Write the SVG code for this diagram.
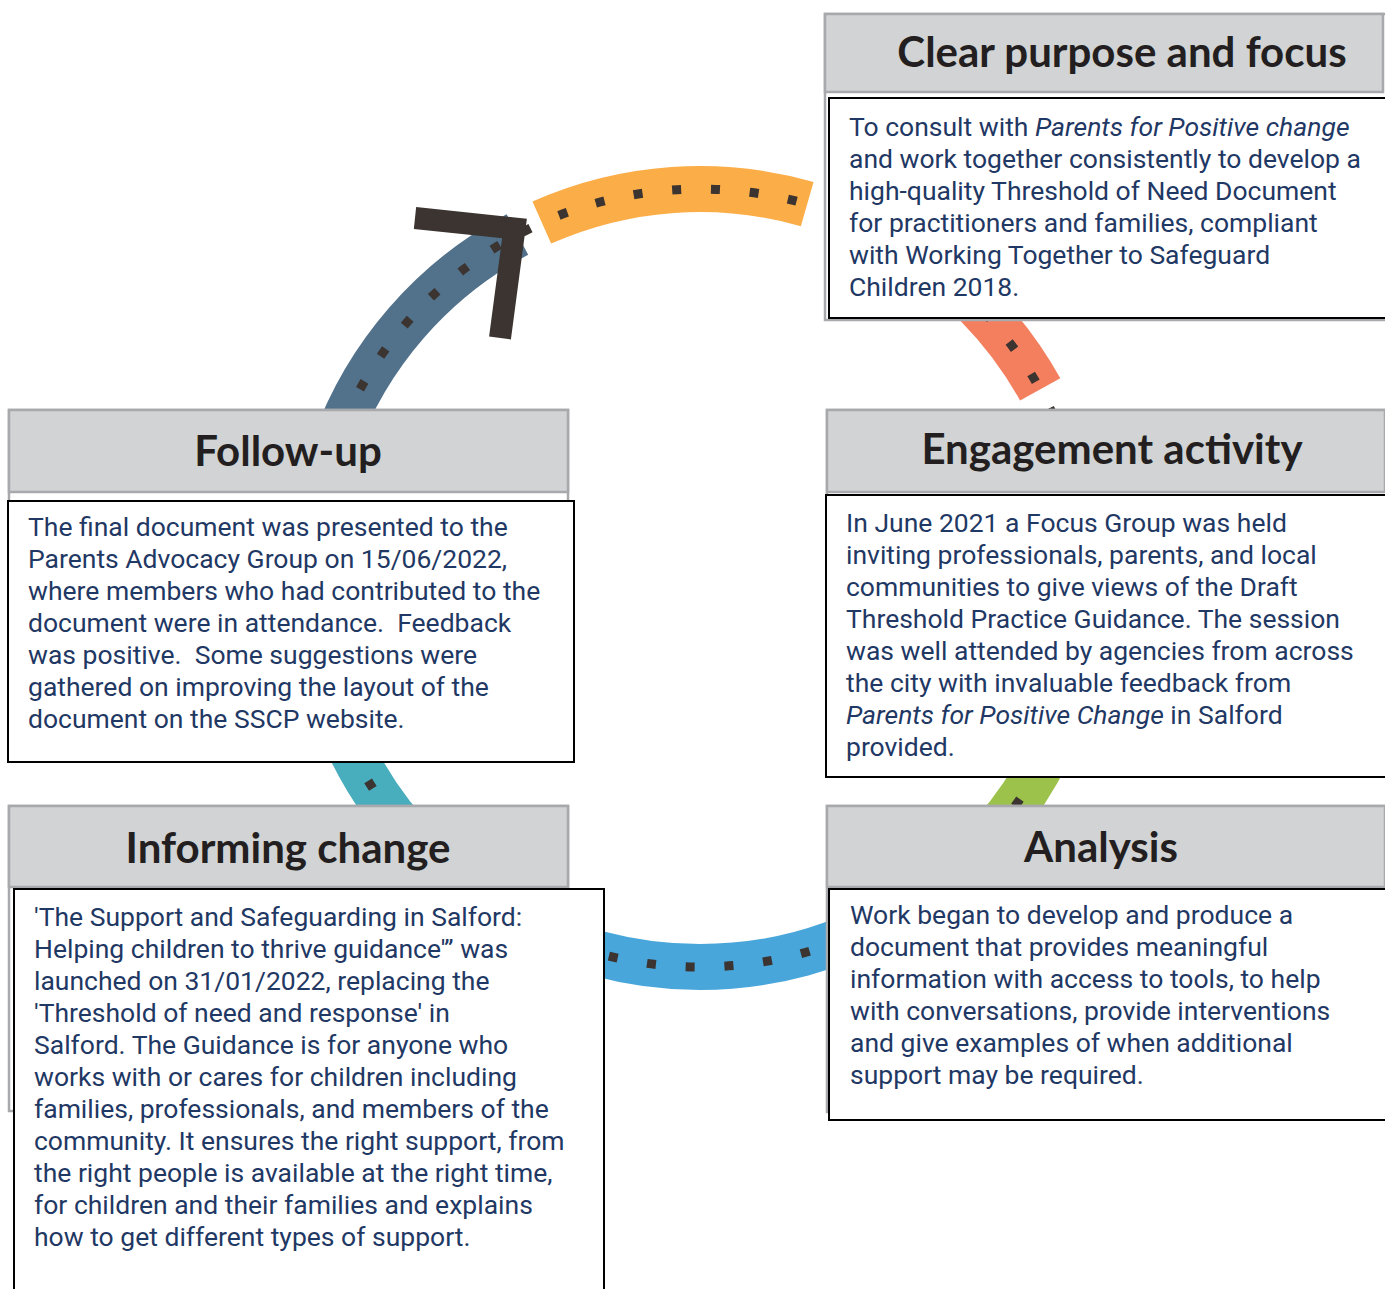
<svg xmlns="http://www.w3.org/2000/svg" width="1385" height="1289" viewBox="0 0 1385 1289">
<style>
.band{fill:none;stroke-width:46;stroke-linecap:butt}
.dots{fill:none;stroke:#3b3430;stroke-width:9;stroke-dasharray:9 29.8;stroke-linecap:butt}
.outer{fill:#fff;stroke:#a7a9ac;stroke-width:2.5}
.head{fill:#d1d3d4;stroke:#a7a9ac;stroke-width:2.5}
.tbox{fill:#fff;stroke:#000;stroke-width:2}
.title{font-family:Lato,"Open Sans",sans-serif;font-weight:bold;font-size:42px;fill:#231f20;text-anchor:middle}
.body{font-family:Roboto,"Liberation Sans",sans-serif;font-size:26.5px;fill:#1f3864;white-space:pre}
.it{font-style:italic}
</style>
<g id="connectors">
  <path class="band" stroke="#fbad47" d="M 541.8 222.6 A 389 389 0 0 1 807.2 204.1"/>
  <path class="dots" stroke-dashoffset="20.2" d="M 541.8 222.6 A 389 389 0 0 1 807.2 204.1"/>
  <path class="dots" d="M 522.5 232.3 A 389 389 0 0 1 541.8 222.6" stroke-dasharray="9 40"/>
  <path class="band" stroke="#f47f5f" d="M 894.5 241.1 A 389 389 0 0 1 1040.2 389.4"/>
  <path class="dots" stroke-dashoffset="1.5" d="M 894.5 241.1 A 389 389 0 0 1 1055.6 420.5"/>
  <path class="band" stroke="#9dc24b" d="M 1065.5 711 A 389 389 0 0 1 975 853"/>
  <path class="dots" stroke-dashoffset="17" d="M 1065.5 711 A 389 389 0 0 1 975 853"/>
  <path class="band" stroke="#48a6da" d="M 894.5 914.9 A 389 389 0 0 1 505.5 914.9"/>
  <path class="dots" stroke-dashoffset="23.8" d="M 894.5 914.9 A 389 389 0 0 1 505.5 914.9"/>
  <path class="band" stroke="#48adbd" d="M 425 853 A 389 389 0 0 1 334.5 711"/>
  <path class="dots" stroke-dashoffset="33.3" d="M 425 853 A 389 389 0 0 1 334.5 711"/>
  <path class="band" stroke="#52718b" d="M 334.5 445 A 389 389 0 0 1 517.4 234.5"/>
  <path class="dots" stroke-dashoffset="16.2" d="M 334.5 445 A 389 389 0 0 1 508 240"/>
</g>
<g id="node-clear-purpose">
  <rect class="outer" x="825" y="14" width="562" height="306"/>
  <rect class="head" x="825" y="14" width="558" height="78"/>
  <text class="title" x="1122" y="67">Clear purpose and focus</text>
  <rect class="tbox" x="829" y="98" width="560" height="220"/>
  <text class="body" x="849" y="136">To consult with <tspan class="it">Parents for Positive change</tspan></text>
  <text class="body" x="849" y="168">and work together consistently to develop a</text>
  <text class="body" x="849" y="200">high-quality Threshold of Need Document</text>
  <text class="body" x="849" y="232">for practitioners and families, compliant</text>
  <text class="body" x="849" y="264">with Working Together to Safeguard</text>
  <text class="body" x="849" y="296">Children 2018.</text>
</g>
<g id="node-engagement">
  <rect class="outer" x="827" y="410" width="560" height="366"/>
  <rect class="head" x="827" y="410" width="558" height="82"/>
  <text class="title" x="1112" y="464">Engagement activity</text>
  <rect class="tbox" x="826" y="495" width="562" height="282"/>
  <text class="body" x="846" y="532">In June 2021 a Focus Group was held</text>
  <text class="body" x="846" y="564">inviting professionals, parents, and local</text>
  <text class="body" x="846" y="596">communities to give views of the Draft</text>
  <text class="body" x="846" y="628">Threshold Practice Guidance. The session</text>
  <text class="body" x="846" y="660">was well attended by agencies from across</text>
  <text class="body" x="846" y="692">the city with invaluable feedback from</text>
  <text class="body" x="846" y="724"><tspan class="it">Parents for Positive Change</tspan> in Salford</text>
  <text class="body" x="846" y="756">provided.</text>
</g>
<g id="node-analysis">
  <rect class="outer" x="827" y="806" width="560" height="306"/>
  <rect class="head" x="827" y="806" width="558" height="81"/>
  <text class="title" x="1101" y="862">Analysis</text>
  <rect class="tbox" x="829" y="889" width="560" height="231"/>
  <text class="body" x="850" y="924">Work began to develop and produce a</text>
  <text class="body" x="850" y="956">document that provides meaningful</text>
  <text class="body" x="850" y="988">information with access to tools, to help</text>
  <text class="body" x="850" y="1020">with conversations, provide interventions</text>
  <text class="body" x="850" y="1052">and give examples of when additional</text>
  <text class="body" x="850" y="1084">support may be required.</text>
</g>
<g id="node-follow-up">
  <rect class="outer" x="9" y="410" width="559" height="340"/>
  <rect class="head" x="9" y="410" width="559" height="82"/>
  <text class="title" x="288" y="466">Follow-up</text>
  <rect class="tbox" x="8" y="501" width="566" height="261"/>
  <text class="body" x="28" y="536">The final document was presented to the</text>
  <text class="body" x="28" y="568">Parents Advocacy Group on 15/06/2022,</text>
  <text class="body" x="28" y="600">where members who had contributed to the</text>
  <text class="body" x="28" y="632">document were in attendance.  Feedback</text>
  <text class="body" x="28" y="664">was positive.  Some suggestions were</text>
  <text class="body" x="28" y="696">gathered on improving the layout of the</text>
  <text class="body" x="28" y="728">document on the SSCP website.</text>
</g>
<g id="node-informing-change">
  <rect class="outer" x="9" y="806" width="559" height="305"/>
  <rect class="head" x="9" y="806" width="559" height="81"/>
  <text class="title" x="288" y="863">Informing change</text>
  <rect class="tbox" x="14" y="889" width="590" height="410"/>
  <text class="body" x="34" y="926">'The Support and Safeguarding in Salford:</text>
  <text class="body" x="34" y="958">Helping children to thrive guidance'” was</text>
  <text class="body" x="34" y="990">launched on 31/01/2022, replacing the</text>
  <text class="body" x="34" y="1022">'Threshold of need and response' in</text>
  <text class="body" x="34" y="1054">Salford. The Guidance is for anyone who</text>
  <text class="body" x="34" y="1086">works with or cares for children including</text>
  <text class="body" x="34" y="1118">families, professionals, and members of the</text>
  <text class="body" x="34" y="1150">community. It ensures the right support, from</text>
  <text class="body" x="34" y="1182">the right people is available at the right time,</text>
  <text class="body" x="34" y="1214">for children and their families and explains</text>
  <text class="body" x="34" y="1246">how to get different types of support.</text>
</g>
<g id="arrowhead">
  <polyline points="415,218 514.5,228.5 500,338" fill="none" stroke="#3b3430" stroke-width="22" stroke-linejoin="miter" stroke-miterlimit="10"/>
</g>
</svg>
